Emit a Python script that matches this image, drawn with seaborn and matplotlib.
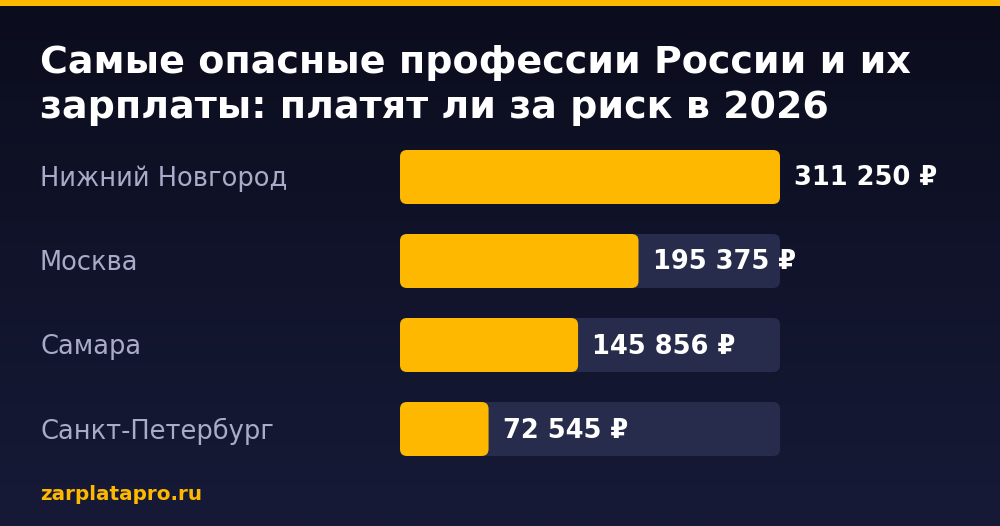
import numpy as np
import pandas as pd
import matplotlib
matplotlib.use("Agg")
import matplotlib.pyplot as plt
from matplotlib.patches import FancyBboxPatch
import seaborn as sns

# --- data ---
cities = ["Нижний Новгород", "Москва", "Самара", "Санкт-Петербург"]
salaries = [311250, 195375, 145856, 72545]
value_labels = ["311 250 ₽", "195 375 ₽", "145 856 ₽", "72 545 ₽"]
title_text = "Самые опасные профессии России и их\nзарплаты: платят ли за риск в 2026"
footer_text = "zarplatapro.ru"

YELLOW = "#FFB800"
TRACK = "#272c4c"
LABEL = "#a9abc8"

df = pd.DataFrame({"city": cities, "salary": salaries})
df["track"] = max(salaries)

sns.set_theme(style="white")
plt.rcParams["font.family"] = ["DejaVu Sans"]

W, H = 1000, 526
fig = plt.figure(figsize=(10, 5.26), dpi=100)

# background gradient + top stripe
bg = fig.add_axes([0, 0, 1, 1], zorder=-10)
grad = np.linspace(0, 1, 256).reshape(-1, 1)
cmap = matplotlib.colors.LinearSegmentedColormap.from_list("bg", ["#0b0d1d", "#161a37"])
bg.imshow(grad, aspect="auto", cmap=cmap, extent=[0, 1, 0, 1], origin="upper")
bg.add_patch(plt.Rectangle((0, 1 - 6 / H), 1, 6 / H, color=YELLOW, lw=0))
bg.set_xlim(0, 1)
bg.set_ylim(0, 1)
bg.axis("off")

# bar area: 400..780 px wide, rows every 84 px starting at 177 px
ax = fig.add_axes([400 / W, (H - 471) / H, 380 / W, 336 / H])
ax.patch.set_alpha(0)
sns.barplot(data=df, x="track", y="city", color=TRACK, width=54 / 84, ax=ax, saturation=1)
sns.barplot(data=df, x="salary", y="city", color=YELLOW, width=54 / 84, ax=ax, saturation=1)
ax.set_xlim(0, max(salaries))
ax.set_ylim(3.5, -0.5)

# round bar corners
px_x = max(salaries) / 380
px_y = 1 / 84
for p in list(ax.patches):
    x, y = p.get_x(), p.get_y()
    w, h = p.get_width(), p.get_height()
    rb = FancyBboxPatch((x, y), w, h,
                        boxstyle=f"round,pad=0,rounding_size={7 * px_x}",
                        mutation_aspect=px_y / px_x,
                        fc=p.get_facecolor(), ec="none", lw=0, zorder=p.get_zorder())
    p.remove()
    ax.add_patch(rb)

for i, (v, lab) in enumerate(zip(salaries, value_labels)):
    ax.text(v + 14 * px_x, i + 1.5 * px_y, lab, color="white", fontsize=18.5,
            fontweight="bold", va="center", ha="left", clip_on=False)
    fig.text(40 / W, 1 - (179 + 84 * i) / H, cities[i], color=LABEL, fontsize=18.5,
             va="center", ha="left")

ax.axis("off")

fig.text(40 / W, 1 - 45 / H, title_text, color="white", fontsize=27.4, fontweight="bold",
         va="top", ha="left", linespacing=1.32)
fig.text(40 / W, 1 - 495 / H, footer_text, color=YELLOW, fontsize=14.4, fontweight="bold",
         va="center", ha="left")

fig.savefig("out.png", dpi=100)
